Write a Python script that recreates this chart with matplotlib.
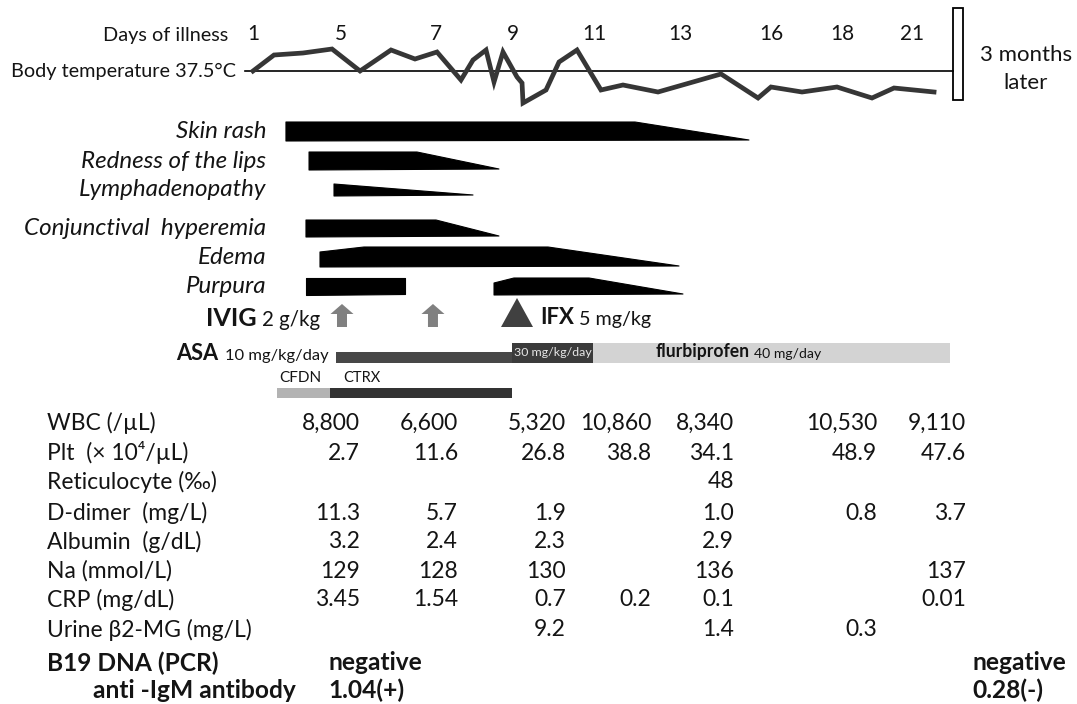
import matplotlib
matplotlib.use("Agg")
import matplotlib.pyplot as plt
from matplotlib.patches import Polygon, Rectangle

plt.rcParams['font.family'] = ['Lato', 'DejaVu Sans']

# ------------------------------------------------------------------ data
day_labels = ['1', '5', '7', '9', '11', '13', '16', '18', '21']

# body-temperature trace: timeline position, temperature (°C)
temp_pos = [0.000, 0.255, 0.607, 0.959, 1.299, 1.675, 1.966, 2.233, 2.524, 2.670,
            2.828, 2.925, 3.034, 3.204, 3.265, 3.277, 3.556, 3.714, 3.932, 4.223,
            4.490, 4.915, 5.680, 6.129, 6.286, 6.663, 7.087, 7.512, 7.779, 8.265]
temp_val = [37.50, 38.14, 38.22, 38.38, 37.50, 38.34, 37.98, 38.26, 37.14, 37.94,
            38.34, 37.06, 38.26, 37.26, 37.02, 36.22, 36.74, 37.86, 38.34, 36.74,
            36.94, 36.66, 37.38, 36.42, 36.86, 36.66, 36.86, 36.42, 36.82, 36.66]
temp_ref = 37.5

symptoms = ['Skin rash', 'Redness of the lips', 'Lymphadenopathy',
            'Conjunctival  hyperemia', 'Edema', 'Purpura']
# symptom episodes (timeline positions): onset, full, start of waning, resolved
ep_symptom = [0, 1, 2, 3, 4, 5, 5]
ep_onset = [0.400, 0.680, 0.983, 0.643, 0.813, 0.643, 2.925]
ep_full = [0.400, 0.680, 0.983, 0.643, 1.347, 0.643, 3.167]
ep_wane = [4.636, 1.990, 0.983, 2.221, 3.580, 1.845, 4.078]
ep_end = [6.019, 2.985, 2.670, 2.985, 5.170, 1.845, 5.218]

ivig_pos = [1.080, 2.184]
ifx_pos = [3.204]

drugs = ['ASA 10 mg/kg/day', 'ASA 30 mg/kg/day', 'flurbiprofen 40 mg/day', 'CFDN', 'CTRX']
drug_start = [1.007, 3.143, 4.126, 0.291, 0.934]
drug_end = [3.143, 4.126, 8.459, 0.934, 3.143]

lab_names = ['WBC (/µL)', 'Plt  (× 10⁴/µL)', 'Reticulocyte (‰)', 'D-dimer  (mg/L)',
             'Albumin  (g/dL)', 'Na (mmol/L)', 'CRP (mg/dL)', 'Urine β2-MG (mg/L)']
wbc = [8800, 6600, 5320, 10860, 8340, 10530, 9110]
plt_count = [2.7, 11.6, 26.8, 38.8, 34.1, 48.9, 47.6]
reticulocyte = [None, None, None, None, 48, None, None]
d_dimer = [11.3, 5.7, 1.9, None, 1.0, 0.8, 3.7]
albumin = [3.2, 2.4, 2.3, None, 2.9, None, None]
sodium = [129, 128, 130, None, 136, None, 137]
crp = [3.45, 1.54, 0.7, 0.2, 0.1, None, 0.01]
urine_b2mg = [None, None, 9.2, None, 1.4, 0.3, None]
lab_formats = ['{:,}', '{:.1f}', '{:d}', '{:.1f}', '{:.1f}', '{:d}', '{:g}', '{:.1f}']

b19_labels = ['B19 DNA (PCR)', 'anti -IgM antibody']
b19_first = ['negative', '1.04(+)']
b19_later = ['negative', '0.28(-)']

# ------------------------------------------------------------------ layout
W, H = 1077, 704
X0, UNIT = 253.0, 82.4          # timeline origin / unit in pixels
day_tick_pos = [0.0, 1.068, 2.221, 3.155, 4.138, 5.182, 6.286, 7.148, 7.998]
lab_col_pos = [1.299, 2.488, 3.799, 4.830, 5.837, 7.573, 8.653]

fig = plt.figure(figsize=(W / 100, H / 100), dpi=100)
fig.patch.set_facecolor('white')
ax = fig.add_axes([0, 0, 1, 1])
ax.set_xlim(-X0 / UNIT, (W - X0) / UNIT)
ax.set_ylim(H, 0)
ax.axis('off')

T_ROW, T_SCALE = 71, 25.0
axT = fig.add_axes([0, 0, 1, 1], sharex=ax)
axT.set_ylim(temp_ref - (H - T_ROW) / T_SCALE, temp_ref + T_ROW / T_SCALE)
axT.axis('off')
axT.patch.set_alpha(0)

renderer = fig.canvas.get_renderer()
TXT = '#141414'


def X(px):
    return (px - X0) / UNIT


def fit(text, target, **kw):
    t = ax.text(0, 0, text, fontsize=10, **kw)
    w = t.get_window_extent(renderer).width
    t.remove()
    return 10.0 * target / w


def put(x0, x1, y, text, **kw):
    s = fit(text, x1 - x0, **kw)
    ax.text(X(x0), y, text, fontsize=s, ha='left', va='center', color=kw.pop('color', TXT), **kw)


# ------------------------------------------------------------------ header / temperature
hdr = fit('Body temperature 37.5°C', 226)
ax.text(X(228), 35, 'Days of illness', fontsize=hdr, ha='right', va='center', color=TXT)
ax.text(X(236), 71, 'Body temperature 37.5°C', fontsize=hdr, ha='right', va='center', color=TXT)
for p, lab in zip(day_tick_pos, day_labels):
    ax.text(p, 34, lab, fontsize=hdr * 1.04, ha='center', va='center', color=TXT)

axT.plot([X(245), X(953)], [temp_ref, temp_ref], color='black', lw=1.2, zorder=2)
axT.plot(temp_pos, temp_val, color='#363636', lw=3.4, solid_joinstyle='miter', zorder=3)

ax.add_patch(Rectangle((X(953), 8), 10 / UNIT, 92, facecolor='white',
                       edgecolor='black', lw=1.3, zorder=4))
sm = fit('3 months', 92)
ax.text(X(1026), 55, '3 months', fontsize=sm, ha='center', va='center', color=TXT)
ax.text(X(1026), 83, 'later', fontsize=sm, ha='center', va='center', color=TXT)

# ------------------------------------------------------------------ symptoms
row_top = [122, 152, 184, 220, 247, 278]
row_bot = [141, 170, 196, 237, 267, 295]
sym_size = fit('Conjunctival  hyperemia', 233, style='italic') * 1.04
for i, name in enumerate(symptoms):
    ax.text(X(266), (row_top[i] + row_bot[i]) / 2, name, fontsize=sym_size,
            style='italic', ha='right', va='center', color=TXT)

for s, on, full, wane, end in zip(ep_symptom, ep_onset, ep_full, ep_wane, ep_end):
    top, bot = row_top[s], row_bot[s]
    drop = 5 if full > on else 0
    verts = [(on, bot), (on, top + drop), (full, top), (wane, top), (end, bot - 1)]
    ax.add_patch(Polygon(verts, closed=True, facecolor='black', edgecolor='black',
                         lw=0.8, joinstyle='round'))

# ------------------------------------------------------------------ treatments
put(206, 257, 318, 'IVIG', weight='bold')
put(262, 320, 320, '2 g/kg')
for p in ivig_pos:
    hw, sw = 11.5 / UNIT, 5 / UNIT
    verts = [(p - sw, 327), (p - sw, 314), (p - hw, 314), (p, 304),
             (p + hw, 314), (p + sw, 314), (p + sw, 327)]
    ax.add_patch(Polygon(verts, closed=True, facecolor='#808080', edgecolor='none'))
for p in ifx_pos:
    hw = 16 / UNIT
    ax.add_patch(Polygon([(p - hw, 327), (p + hw, 327), (p, 298)], closed=True,
                         facecolor='#404040', edgecolor='none'))
put(540, 574, 318, 'IFX', weight='bold')
put(579, 651, 320, '5 mg/kg')

bar_top = [352, 343, 343, 388, 388]
bar_h = [11, 20, 20, 10, 10]
bar_col = ['#474747', '#3b3b3b', '#d3d3d3', '#b3b3b3', '#333333']
for st, en, t, h, c in zip(drug_start, drug_end, bar_top, bar_h, bar_col):
    ax.add_patch(Rectangle((st, t), en - st, h, facecolor=c, edgecolor='none'))

put(176, 218, 354, 'ASA', weight='bold')
put(225, 328, 356, '10 mg/kg/day')
put(514, 591, 353, '30 mg/kg/day', color='#e6e6e6')
put(656, 750, 352, 'flurbiprofen', weight='bold')
put(754, 821, 354, '40 mg/day')
put(279, 321, 378, 'CFDN')
put(343, 380, 378, 'CTRX')

# ------------------------------------------------------------------ laboratory table
lab_rows = [wbc, plt_count, reticulocyte, d_dimer, albumin, sodium, crp, urine_b2mg]
lab_y = [423, 453, 482, 513, 542, 571, 600, 630]
lab_size = fit('Urine β2-MG (mg/L)', 200) * 1.02
for name, vals, fmt, y in zip(lab_names, lab_rows, lab_formats, lab_y):
    ax.text(X(47), y, name, fontsize=lab_size, ha='left', va='center', color=TXT)
    for p, v in zip(lab_col_pos, vals):
        if v is None:
            continue
        ax.text(p, y, fmt.format(v), fontsize=lab_size, ha='right', va='center', color=TXT)

bsize = fit('anti -IgM antibody', 198, weight='bold') * 1.02
b19_x = [47, 93]
b19_y = [663, 690]
for lab, a, b, x, y in zip(b19_labels, b19_first, b19_later, b19_x, b19_y):
    ax.text(X(x), y, lab, fontsize=bsize, weight='bold', ha='left', va='center', color=TXT)
    ax.text(X(328), y, a, fontsize=bsize, weight='bold', ha='left', va='center', color=TXT)
    ax.text(X(972), y, b, fontsize=bsize, weight='bold', ha='left', va='center', color=TXT)

fig.savefig('out.png', dpi=100, facecolor='white')
